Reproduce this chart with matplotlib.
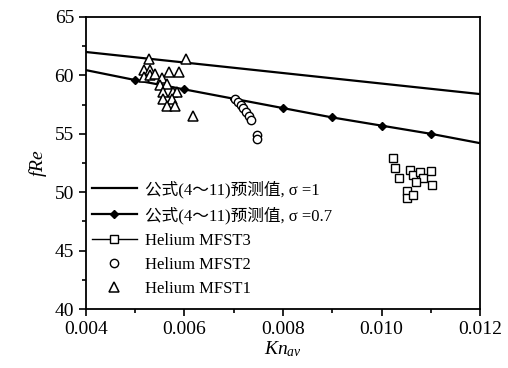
import matplotlib
matplotlib.use("Agg")
import matplotlib.pyplot as plt
from matplotlib.lines import Line2D
from matplotlib.ticker import MultipleLocator

plt.rcParams["font.family"] = ["Liberation Serif", "Noto Sans CJK SC"]
plt.rcParams["mathtext.fontset"] = "custom"
plt.rcParams["mathtext.it"] = "Liberation Serif:italic"
plt.rcParams["mathtext.rm"] = "Liberation Serif"

# model curves, eq. (4~11)
kn_model = [0.004, 0.005, 0.006, 0.007, 0.008, 0.009, 0.010, 0.011, 0.012]
fre_sigma1 = [62.0, 61.55, 61.1, 60.65, 60.2, 59.75, 59.3, 58.85, 58.4]
fre_sigma07 = [60.45, 59.6, 58.8, 58.0, 57.2, 56.4, 55.7, 55.0, 54.2]

# helium experiments
kn_mfst1 = [0.00529, 0.00603, 0.00518, 0.00530, 0.00569, 0.00589, 0.00518, 0.00530,
            0.00540, 0.00554, 0.00550, 0.00564, 0.00557, 0.00577, 0.00584, 0.00557,
            0.00574, 0.00564, 0.00581, 0.00618]
fre_mfst1 = [61.4, 61.4, 60.5, 60.5, 60.3, 60.3, 59.9, 60.0,
             60.1, 59.75, 59.2, 59.3, 58.6, 58.6, 58.6, 58.0,
             58.0, 57.35, 57.35, 56.5]

kn_mfst2 = [0.00703, 0.00709, 0.00715, 0.00719, 0.00724, 0.00731, 0.00736, 0.00747, 0.00747]
fre_mfst2 = [58.0, 57.75, 57.5, 57.2, 56.9, 56.55, 56.2, 54.9, 54.55]

kn_mfst3 = [0.01023, 0.01027, 0.01036, 0.01058, 0.01064, 0.01079, 0.01100, 0.01085,
            0.01070, 0.01102, 0.01052, 0.01052, 0.01064]
fre_mfst3 = [52.95, 52.1, 51.2, 51.9, 51.5, 51.75, 51.8, 51.25,
             50.85, 50.6, 50.1, 49.5, 49.75]

fig = plt.figure(figsize=(5.08, 3.68), dpi=100)
ax = fig.add_axes([0.169, 0.160, 0.776, 0.794])

ax.plot(kn_model, fre_sigma1, color="black", lw=1.6)
ax.plot(kn_model, fre_sigma07, color="black", lw=1.6, marker="D", ms=4,
        markevery=slice(1, 8))
ax.plot(kn_mfst3, fre_mfst3, ls="none", marker="s", ms=5.5, mfc="white", mec="black", mew=1.0)
ax.plot(kn_mfst2, fre_mfst2, ls="none", marker="o", ms=6, mfc="white", mec="black", mew=1.0)
ax.plot(kn_mfst1, fre_mfst1, ls="none", marker="^", ms=7, mfc="white", mec="black", mew=1.1)

ax.set_xlim(0.004, 0.012)
ax.set_ylim(40, 65)
ax.xaxis.set_major_locator(MultipleLocator(0.002))
ax.xaxis.set_minor_locator(MultipleLocator(0.001))
ax.yaxis.set_major_locator(MultipleLocator(5))
ax.yaxis.set_minor_locator(MultipleLocator(2.5))
ax.xaxis.set_major_formatter(lambda v, p: f"{v:.3f}")
ax.tick_params(which="both", direction="out", top=False, right=False, labelsize=14, width=1.2)
ax.tick_params(which="major", length=5)
ax.tick_params(which="minor", length=3)
for s in ax.spines.values():
    s.set_linewidth(1.3)

ax.set_ylabel("$fRe$", fontsize=14, labelpad=4)
ax.set_xlabel("$Kn_{av}$", fontsize=14, labelpad=1)

handles = [
    Line2D([], [], color="black", lw=1.6),
    Line2D([], [], color="black", lw=1.6, marker="D", ms=4),
    Line2D([], [], color="black", lw=1.0, marker="s", ms=5.5, mfc="white"),
    Line2D([], [], ls="none", marker="o", ms=6, mfc="white", mec="black"),
    Line2D([], [], ls="none", marker="^", ms=7, mfc="white", mec="black", mew=1.1),
]
labels = [
    "公式(4～11)预测值, σ =1",
    "公式(4～11)预测值, σ =0.7",
    "Helium MFST3",
    "Helium MFST2",
    "Helium MFST1",
]
ax.legend(handles, labels, loc="upper left", bbox_to_anchor=(0.015, 0.44),
          frameon=False, fontsize=12, borderpad=0, borderaxespad=0,
          handlelength=2.7, handletextpad=0.5, labelspacing=0.5)

fig.savefig("out.png", dpi=100)
